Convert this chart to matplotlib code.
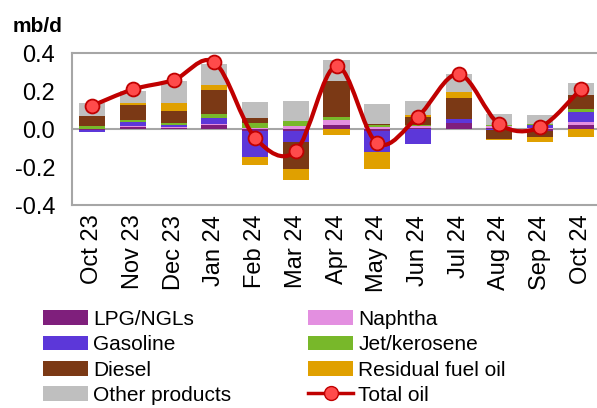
import matplotlib
matplotlib.use("Agg")
import matplotlib.pyplot as plt
from matplotlib.path import Path
from matplotlib.patches import PathPatch, Patch
from matplotlib.lines import Line2D
import numpy as np

plt.rcParams['font.family'] = ['Liberation Sans', 'DejaVu Sans']

months = ["Oct 23", "Nov 23", "Dec 23", "Jan 24", "Feb 24", "Mar 24", "Apr 24",
          "May 24", "Jun 24", "Jul 24", "Aug 24", "Sep 24", "Oct 24"]

lpg      = [-0.003, 0.010, 0.005, 0.019, -0.008, -0.010, 0.021, -0.012, 0.004, 0.030, 0.005, -0.010, 0.023]
naphtha  = [0.000, 0.008, 0.005, 0.009, 0.006, 0.014, 0.026, 0.010, 0.010, 0.004, 0.010, 0.007, 0.012]
gasoline = [-0.015, 0.017, 0.010, 0.028, -0.140, -0.056, 0.000, -0.107, -0.080, 0.019, -0.005, 0.012, 0.053]
jet      = [0.014, 0.012, 0.012, 0.021, 0.026, 0.026, 0.014, 0.009, 0.009, 0.000, 0.004, 0.009, 0.018]
diesel   = [0.054, 0.080, 0.063, 0.130, 0.025, -0.146, 0.191, 0.007, 0.039, 0.109, -0.045, -0.030, 0.075]
resid    = [0.000, 0.012, 0.042, 0.026, -0.044, -0.058, -0.032, -0.091, 0.012, 0.032, -0.007, -0.030, -0.040]
other    = [0.070, 0.061, 0.114, 0.109, 0.084, 0.109, 0.110, 0.104, 0.075, 0.096, 0.058, 0.047, 0.060]
total    = [0.123, 0.209, 0.258, 0.351, -0.046, -0.116, 0.332, -0.075, 0.065, 0.289, 0.025, 0.009, 0.209]

series = [
    ("LPG/NGLs", lpg, "#7F1F7C"),
    ("Naphtha", naphtha, "#E38FE0"),
    ("Gasoline", gasoline, "#5C37D9"),
    ("Jet/kerosene", jet, "#78B82A"),
    ("Diesel", diesel, "#7B3915"),
    ("Residual fuel oil", resid, "#E0A000"),
    ("Other products", other, "#BFBFBF"),
]

W, H = 597, 408
FS = 15
FT = 17
fig = plt.figure(figsize=(W / 100, H / 100), dpi=100)
ax_left, ax_right, ax_top, ax_bot = 72, 601, 53, 205
ax = fig.add_axes([ax_left / W, 1 - ax_bot / H, (ax_right - ax_left) / W, (ax_bot - ax_top) / H])

x = np.arange(len(months))
pos_base = np.zeros(len(months))
neg_base = np.zeros(len(months))
for name, vals, col in series:
    v = np.array(vals)
    p = np.where(v > 0, v, 0)
    n = np.where(v < 0, v, 0)
    ax.bar(x, p, bottom=pos_base, width=0.64, color=col, zorder=2)
    ax.bar(x, n, bottom=neg_base, width=0.64, color=col, zorder=2)
    pos_base += p
    neg_base += n

# smoothed total line (Catmull-Rom style Bezier through the data points)
pts = np.column_stack([x, total]).astype(float)
verts = [tuple(pts[0])]
codes = [Path.MOVETO]
n = len(pts)
for i in range(n - 1):
    p0 = pts[i - 1] if i > 0 else pts[i]
    p1 = pts[i]
    p2 = pts[i + 1]
    p3 = pts[i + 2] if i + 2 < n else pts[i + 1]
    c1 = p1 + (p2 - p0) / 6.0
    c2 = p2 - (p3 - p1) / 6.0
    verts += [tuple(c1), tuple(c2), tuple(p2)]
    codes += [Path.CURVE4, Path.CURVE4, Path.CURVE4]
ax.add_patch(PathPatch(Path(verts, codes), facecolor="none", edgecolor="#C00000",
                       lw=3.0, zorder=3, capstyle="round", joinstyle="round"))
ax.plot(x, total, linestyle="none", marker="o", markersize=10,
        markerfacecolor="#FF4B4B", markeredgecolor="#C00000", markeredgewidth=1.3, zorder=4)

ax.axhline(0, color="#A6A6A6", lw=1.5, zorder=1)
ax.set_xlim(-0.5, len(months) - 0.5)
ax.set_ylim(-0.4, 0.4)
ax.set_yticks([-0.4, -0.2, 0.0, 0.2, 0.4])
ax.set_yticklabels(["-0.4", "-0.2", "0.0", "0.2", "0.4"])
ax.set_xticks(x)
ax.set_xticklabels(months, rotation=90)
ax.tick_params(axis="both", length=0, labelsize=FT)
ax.tick_params(axis="y", pad=12)
ax.tick_params(axis="x", pad=7)
for s in ax.spines.values():
    s.set_color("#A6A6A6")
    s.set_linewidth(1.5)

fig.text(13 / W, 1 - 27 / H, "mb/d", fontsize=FS, fontweight="bold", va="center", ha="left")

handles = []
labels = []
for name, vals, col in series:
    handles.append(Patch(facecolor=col, edgecolor="none"))
    labels.append(name)
handles.append(Line2D([0], [0], color="#C00000", lw=2.5, marker="o", markersize=10,
                      markerfacecolor="#FF4B4B", markeredgecolor="#C00000"))
labels.append("Total oil")
col1 = [0, 2, 4, 6]
col2 = [1, 3, 5, 7]
h = [handles[i] for i in col1 + col2]
l = [labels[i] for i in col1 + col2]
fig.legend(h, l, ncol=2, loc="upper left", bbox_to_anchor=(43 / W, 1 - 310 / H),
           frameon=False, fontsize=FS, handlelength=2.16, handletextpad=0.24,
           columnspacing=3.7, labelspacing=0.3, borderaxespad=0, borderpad=0)

fig.savefig("out.png", dpi=100)
